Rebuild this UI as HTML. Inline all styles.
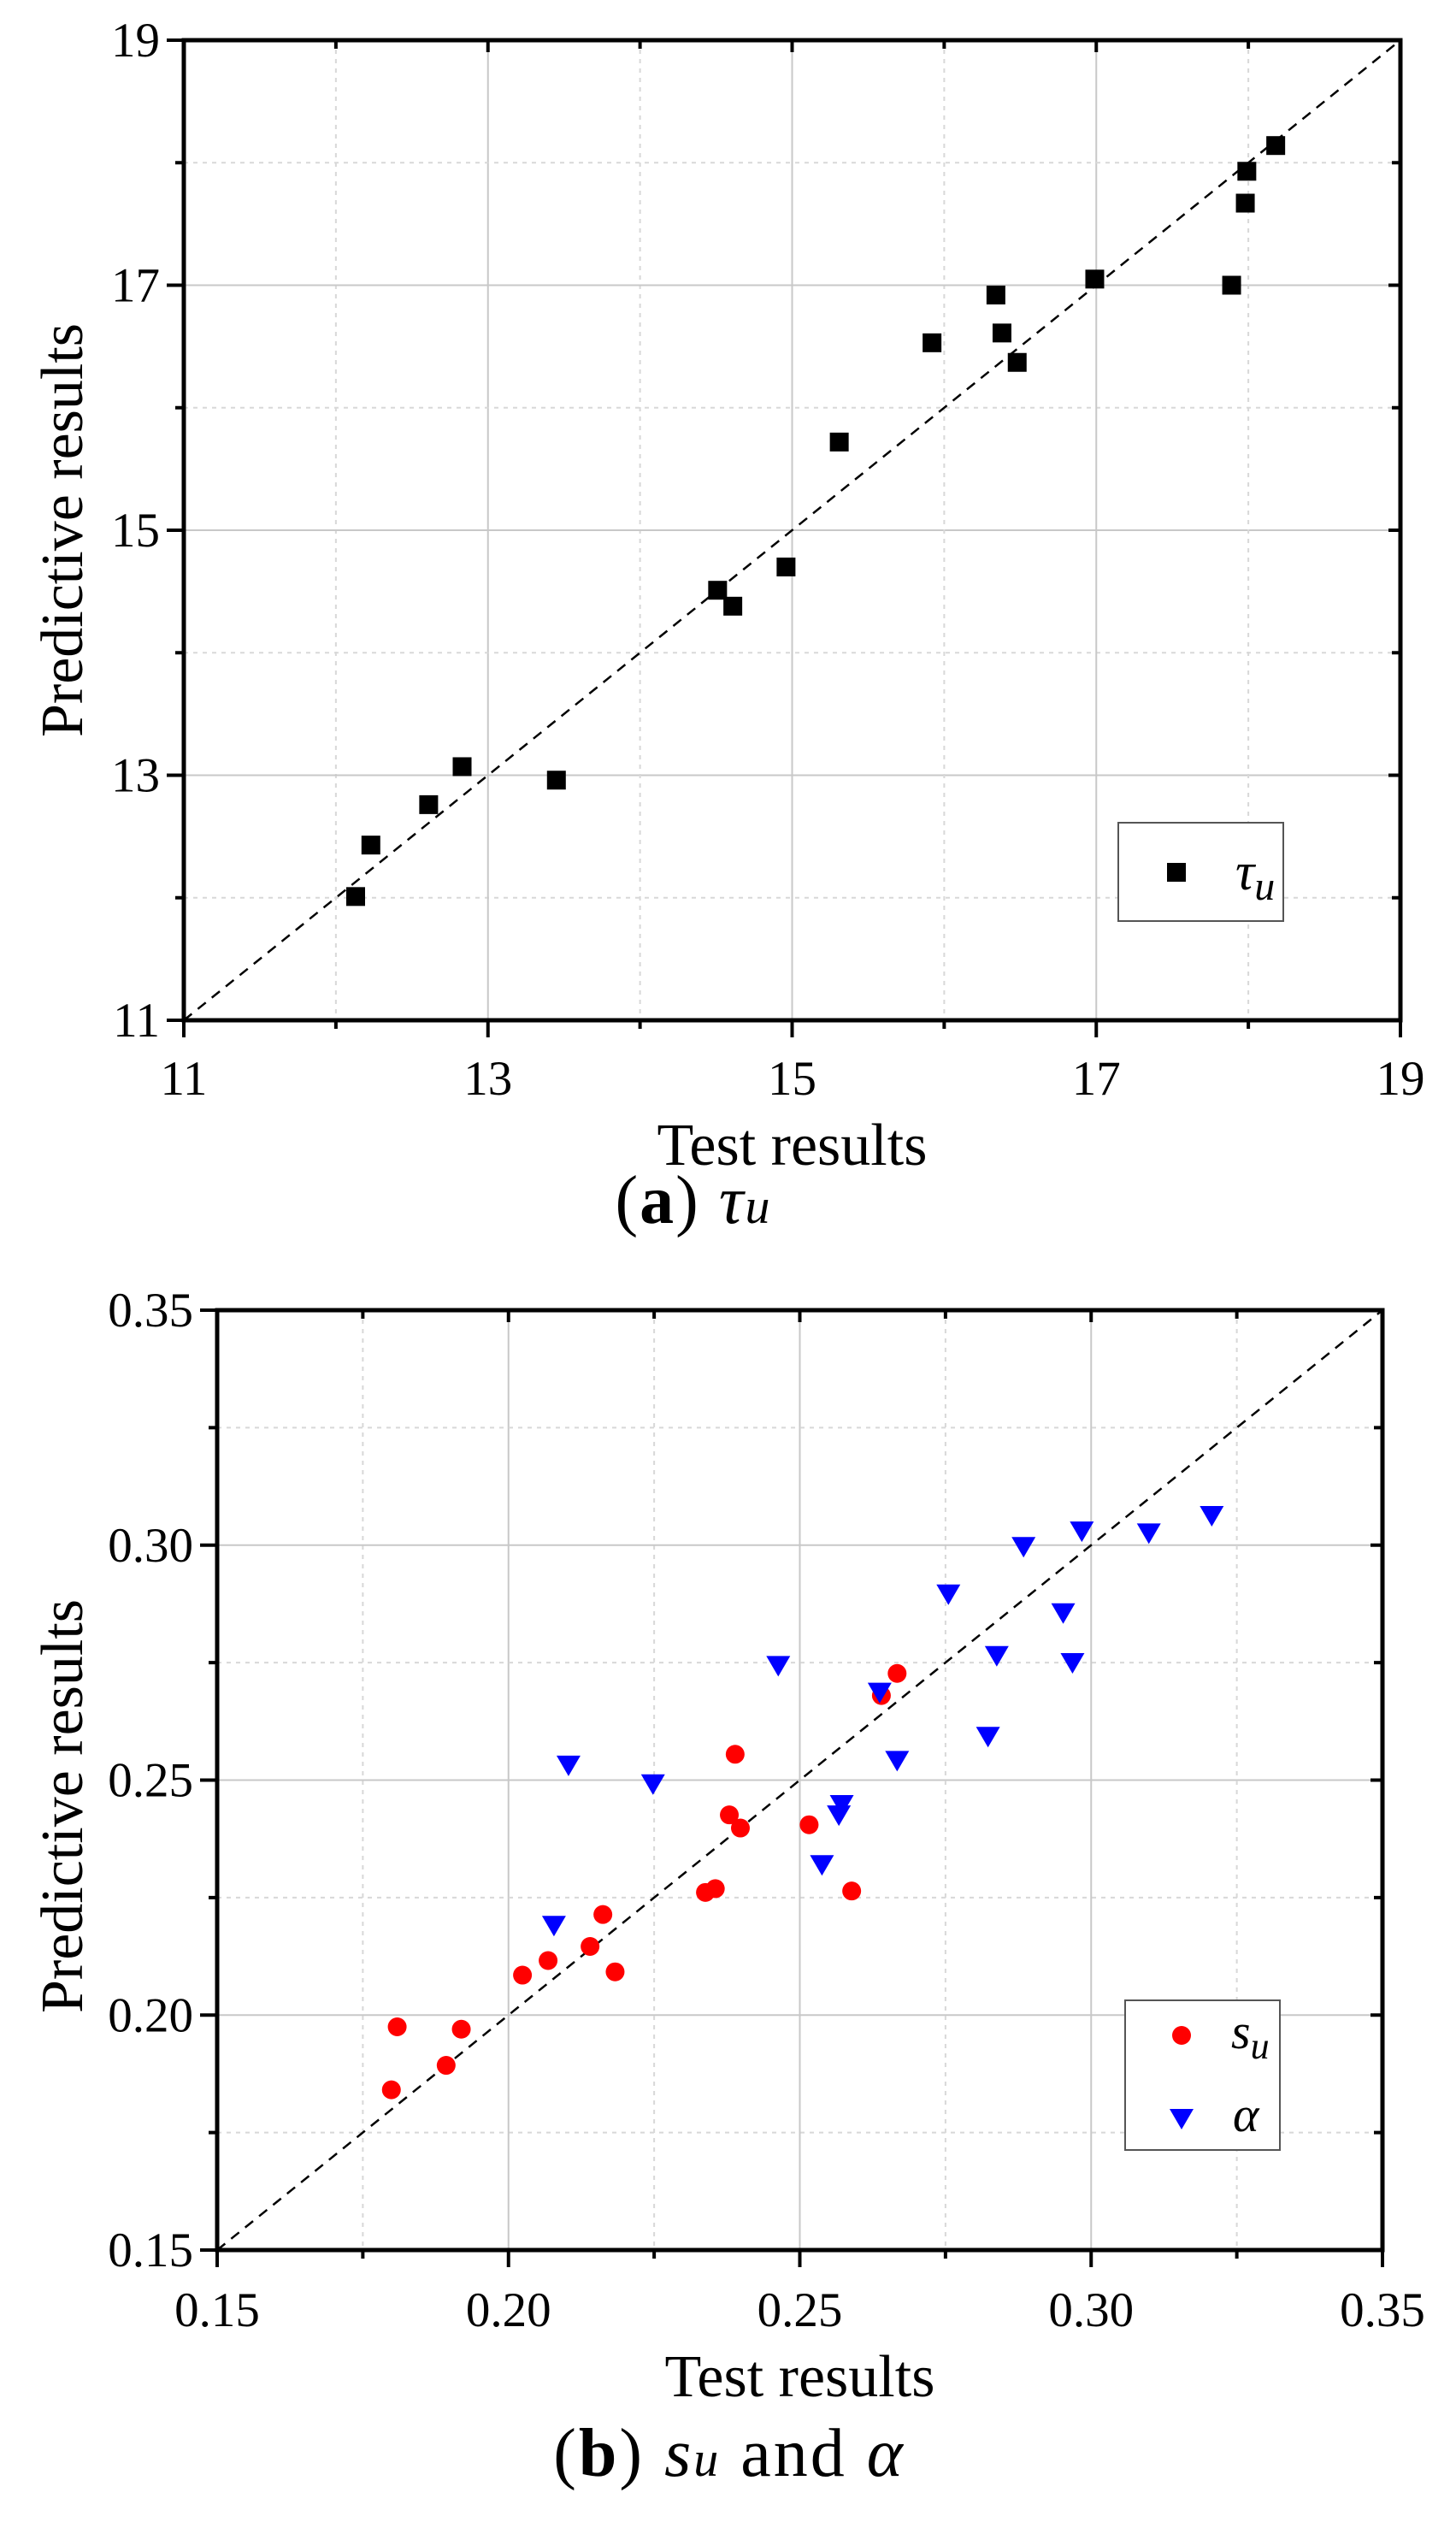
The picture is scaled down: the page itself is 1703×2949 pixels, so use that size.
<!DOCTYPE html>
<html><head><meta charset="utf-8"><style>
html,body{margin:0;padding:0;background:#fff;}
svg{display:block;}
text{font-family:"Liberation Serif",serif;fill:#000;}
</style></head><body>
<svg id="fig" width="1703" height="2949" viewBox="0 0 1703 2949" xmlns="http://www.w3.org/2000/svg">
<rect width="1703" height="2949" fill="#fff"/>
<g id="chartA"></g>
<g id="chartB"></g>
<text x="811" y="1430" font-size="80" text-anchor="middle" letter-spacing="2">(<tspan font-weight="bold">a</tspan>) <tspan font-style="italic">τ</tspan><tspan font-style="italic" font-size="58">u</tspan></text>
<text x="853" y="2895" font-size="80" text-anchor="middle" letter-spacing="3">(<tspan font-weight="bold">b</tspan>) <tspan font-style="italic">s</tspan><tspan font-style="italic" font-size="58">u</tspan> and <tspan font-style="italic">α</tspan></text>
</svg>
<script>
// Chart A data
const tauTest = [12.13,12.23,12.61,12.83,13.45,14.51,14.61,14.96,15.31,15.92,16.34,16.38,16.48,16.99,17.89,17.99,17.98,18.18];
const tauPred = [12.01,12.43,12.76,13.07,12.96,14.51,14.38,14.70,15.72,16.53,16.92,16.61,16.37,17.05,17.00,17.93,17.67,18.14];
const tickLabelsA = ["11","13","15","17","19"];
const tickValuesA = [11,13,15,17,19];
// Chart B data
const suTest = [0.1809,0.1799,0.1893,0.1919,0.2024,0.2068,0.2140,0.2162,0.2183,0.2338,0.2355,0.2379,0.2389,0.2398,0.2516,0.2589,0.2640,0.2667];
const suPred = [0.1975,0.1841,0.1893,0.1970,0.2085,0.2116,0.2146,0.2214,0.2092,0.2261,0.2269,0.2426,0.2555,0.2398,0.2405,0.2264,0.2680,0.2727];
const alphaTest = [0.2078,0.2103,0.2248,0.2463,0.2538,0.2567,0.2572,0.2637,0.2667,0.2755,0.2823,0.2838,0.2884,0.2952,0.2968,0.2984,0.3099,0.3207];
const alphaPred = [0.2193,0.2534,0.2494,0.2746,0.2322,0.2428,0.2450,0.2689,0.2544,0.2898,0.2595,0.2767,0.2999,0.2858,0.2752,0.3032,0.3028,0.3065];
const tickLabelsB = ["0.15","0.20","0.25","0.30","0.35"];
const tickValuesB = [0.15,0.20,0.25,0.30,0.35];

const NS="http://www.w3.org/2000/svg";
function mk(parent,tag,attrs){const e=document.createElementNS(NS,tag);for(const k in attrs)e.setAttribute(k,attrs[k]);parent.appendChild(e);return e;}

function axes(g,cfg){
  const {L,R,T,B,min,max,ticks,labels,ytitleY,xlabY,xtitleY}=cfg;
  const sx=v=>L+(v-min)/(max-min)*(R-L);
  const sy=v=>B-(v-min)/(max-min)*(B-T);
  const step=ticks[1]-ticks[0];
  for(let i=0;i<ticks.length;i++){
    const v=ticks[i];
    if(i>0&&i<ticks.length-1){
      const gx=mk(g,'line',{x1:sx(v),x2:sx(v),y1:T,y2:B,stroke:'#c8c8c8','stroke-width':2});
      
      
      const gy=mk(g,'line',{x1:L,x2:R,y1:sy(v),y2:sy(v),stroke:'#c8c8c8','stroke-width':2});
      
      
    }
    if(i<ticks.length-1){
      const m=v+step/2;
      const mx=mk(g,'line',{x1:sx(m),x2:sx(m),y1:T,y2:B,stroke:'#d8d8d8','stroke-width':2,'stroke-dasharray':'5,6'});
      
      
      const my=mk(g,'line',{x1:L,x2:R,y1:sy(m),y2:sy(m),stroke:'#d8d8d8','stroke-width':2,'stroke-dasharray':'5,6'});
      
      
      mk(g,'line',{x1:sx(m),x2:sx(m),y1:B,y2:B+10,stroke:'#000','stroke-width':4});
      mk(g,'line',{x1:L,x2:L-10,y1:sy(m),y2:sy(m),stroke:'#000','stroke-width':4});
      mk(g,'line',{x1:sx(m),x2:sx(m),y1:T,y2:T+10,stroke:'#000','stroke-width':4});
      mk(g,'line',{x1:R,x2:R-10,y1:sy(m),y2:sy(m),stroke:'#000','stroke-width':4});
    }
    mk(g,'line',{x1:sx(v),x2:sx(v),y1:B,y2:B+20,stroke:'#000','stroke-width':4});
    mk(g,'line',{x1:L,x2:L-20,y1:sy(v),y2:sy(v),stroke:'#000','stroke-width':4});
    mk(g,'line',{x1:sx(v),x2:sx(v),y1:T,y2:T+14,stroke:'#000','stroke-width':4});
    mk(g,'line',{x1:R,x2:R-14,y1:sy(v),y2:sy(v),stroke:'#000','stroke-width':4});
    const xl=mk(g,'text',{x:sx(v),y:xlabY,'font-size':57,'text-anchor':'middle'});
    xl.textContent=labels[i];
    
    
    const yl=mk(g,'text',{x:L-28,y:sy(v)+19,'font-size':57,'text-anchor':'end'});
    yl.textContent=labels[i];
    
    
  }
  const d=mk(g,'line',{x1:sx(min),y1:sy(min),x2:sx(max),y2:sy(max),stroke:'#000','stroke-width':2.5,'stroke-dasharray':'12,9'});
  
  
  const fr=mk(g,'rect',{x:L,y:T,width:R-L,height:B-T,fill:'none',stroke:'#000','stroke-width':5});
  
  
  const xt=mk(g,'text',{x:(L+R)/2,y:xtitleY,'font-size':70,'text-anchor':'middle'});
  xt.textContent='Test results';
  
  
  const yt=mk(g,'text',{x:0,y:0,'font-size':70,'text-anchor':'middle',transform:`translate(96,${ytitleY}) rotate(-90)`});
  yt.textContent='Predictive results';
  
  
  return {sx,sy};
}

// Chart A
const gA=document.getElementById('chartA');
const A=axes(gA,{L:215,R:1638,T:47,B:1193,min:11,max:19,ticks:tickValuesA,labels:tickLabelsA,ytitleY:620,xlabY:1280,xtitleY:1362});
for(let i=0;i<tauTest.length;i++){
  const r=mk(gA,'rect',{x:A.sx(tauTest[i])-11,y:A.sy(tauPred[i])-11,width:22,height:22,fill:'#000'});
  
  
}
const legA=mk(gA,'g',{});


mk(legA,'rect',{x:1308,y:962,width:193,height:115,fill:'#fff',stroke:'#555','stroke-width':2});
mk(legA,'rect',{x:1365,y:1009,width:22,height:22,fill:'#000'});
const la=mk(legA,'text',{x:1445,y:1040,'font-size':62,'font-style':'italic'});
la.innerHTML='τ<tspan font-size="48" dy="12">u</tspan>';

// Chart B
const gB=document.getElementById('chartB');
const B=axes(gB,{L:254,R:1617,T:1532,B:2631,min:0.15,max:0.35,ticks:tickValuesB,labels:tickLabelsB,ytitleY:2112,xlabY:2720,xtitleY:2802});
for(let i=0;i<suTest.length;i++){
  const c=mk(gB,'circle',{cx:B.sx(suTest[i]),cy:B.sy(suPred[i]),r:11,fill:'#ff0000'});
  
  
}
for(let i=0;i<alphaTest.length;i++){
  const x=B.sx(alphaTest[i]),y=B.sy(alphaPred[i]);
  const p=mk(gB,'polygon',{points:`${x-14},${y-10} ${x+14},${y-10} ${x},${y+14}`,fill:'#0000ff'});
  
  
}
const legB=mk(gB,'g',{});


mk(legB,'rect',{x:1316,y:2339,width:181,height:175,fill:'#fff',stroke:'#555','stroke-width':2});
mk(legB,'circle',{cx:1382,cy:2380,r:11,fill:'#ff0000'});
const lb1=mk(legB,'text',{x:1440,y:2395,'font-size':58,'font-style':'italic'});
lb1.innerHTML='s<tspan font-size="44" dy="12">u</tspan>';
mk(legB,'polygon',{points:'1368,2466 1396,2466 1382,2490',fill:'#0000ff'});
const lb2=mk(legB,'text',{x:1442,y:2492,'font-size':58,'font-style':'italic'});
lb2.textContent='α';
</script>
</body></html>
